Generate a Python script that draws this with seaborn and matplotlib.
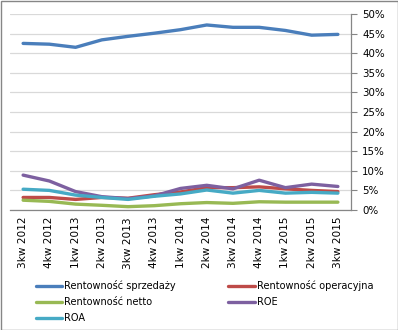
import matplotlib
matplotlib.use("Agg")
import matplotlib.pyplot as plt
import seaborn as sns
import pandas as pd
import numpy as np
from matplotlib.patches import Rectangle
from matplotlib.lines import Line2D
from matplotlib.ticker import FixedLocator, FuncFormatter

quarters = ["3kw 2012", "4kw 2012", "1kw 2013", "2kw 2013", "3kw 2013", "4kw 2013",
            "1kw 2014", "2kw 2014", "3kw 2014", "4kw 2014", "1kw 2015", "2kw 2015", "3kw 2015"]
sprzedazy = [42.5, 42.3, 41.5, 43.4, 44.3, 45.1, 46.0, 47.2, 46.6, 46.6, 45.8, 44.6, 44.8]
operacyjna = [3.2, 3.2, 2.7, 3.2, 3.0, 3.9, 4.6, 5.7, 5.7, 5.9, 5.4, 5.0, 4.7]
netto = [2.5, 2.2, 1.5, 1.2, 0.85, 1.1, 1.6, 1.9, 1.7, 2.1, 2.0, 2.0, 2.0]
roe = [8.9, 7.4, 4.7, 3.4, 2.9, 3.6, 5.5, 6.3, 5.4, 7.6, 5.7, 6.6, 6.0]
roa = [5.3, 5.0, 3.8, 3.2, 2.7, 3.5, 4.1, 5.1, 4.3, 5.0, 4.3, 4.5, 4.3]
series_names = ["Rentowność sprzedaży", "Rentowność operacyjna", "Rentowność netto", "ROE", "ROA"]
y_ticks = [0, 5, 10, 15, 20, 25, 30, 35, 40, 45, 50]

colors = ["#4A7EBB", "#BE4B48", "#98B954", "#7D60A0", "#46AAC5"]

rows = []
for name, vals in zip(series_names, [sprzedazy, operacyjna, netto, roe, roa]):
    for i, (q, v) in enumerate(zip(quarters, vals)):
        rows.append({"pos": i, "quarter": q, "value": v, "series": name})
df = pd.DataFrame(rows)

sns.set_style("white")
plt.rcParams['font.family'] = ['DejaVu Sans']
plt.rcParams['text.color'] = 'black'
plt.rcParams['xtick.labelcolor'] = 'black'
plt.rcParams['ytick.labelcolor'] = 'black'

fig = plt.figure(figsize=(3.98, 3.30), dpi=100)
ax = fig.add_axes([10/398, 1 - 210/330, 341/398, 196/330])

sns.lineplot(data=df, x="pos", y="value", hue="series", hue_order=series_names,
             palette=colors, linewidth=2.4, ax=ax, legend=False, sort=False)

ax.set_xlim(-0.5, len(quarters) - 0.5)
ax.set_ylim(0, 50)
ax.yaxis.tick_right()
ax.set_yticks(y_ticks)
ax.yaxis.set_major_formatter(FuncFormatter(lambda v, p: f"{int(v)}%"))
ax.tick_params(axis="y", which="major", direction="out", length=4, color="#868686",
               labelsize=7.4, pad=4, labelcolor="#000000")
ax.grid(axis="y", color="#D9D9D9", linewidth=0.9)
ax.set_axisbelow(True)

ax.xaxis.set_major_locator(FixedLocator(np.arange(-0.5, len(quarters), 1.0)))
ax.xaxis.set_minor_locator(FixedLocator(np.arange(len(quarters))))
ax.set_xticklabels([], minor=False)
ax.set_xticklabels(quarters, minor=True, rotation=90)
ax.tick_params(axis="x", which="major", direction="out", length=4, color="#868686")
ax.tick_params(axis="x", which="minor", length=0, labelsize=7.6, pad=5, labelcolor="#000000")
ax.set_xlabel("")
ax.set_ylabel("")

for s in ["top", "left"]:
    ax.spines[s].set_visible(False)
for s in ["right", "bottom"]:
    ax.spines[s].set_color("#868686")
    ax.spines[s].set_linewidth(0.9)

handles = [Line2D([], [], color=c, linewidth=2.4) for c in colors]
order = [0, 2, 4, 1, 3]
fig.legend([handles[i] for i in order], [series_names[i] for i in order],
           loc="upper left", bbox_to_anchor=(36/398, 1 - 280/330), ncol=2,
           frameon=False, fontsize=7, handlelength=2.7, handletextpad=0.2,
           columnspacing=5.4, labelspacing=0.62, borderaxespad=0, borderpad=0,
           labelcolor="black")

fig.patches.append(Rectangle((0.5/398, 0.5/330), 1 - 1/398, 1 - 1/330,
                             transform=fig.transFigure, fill=False,
                             edgecolor="#868686", linewidth=1))

fig.savefig("out.png", dpi=100)
